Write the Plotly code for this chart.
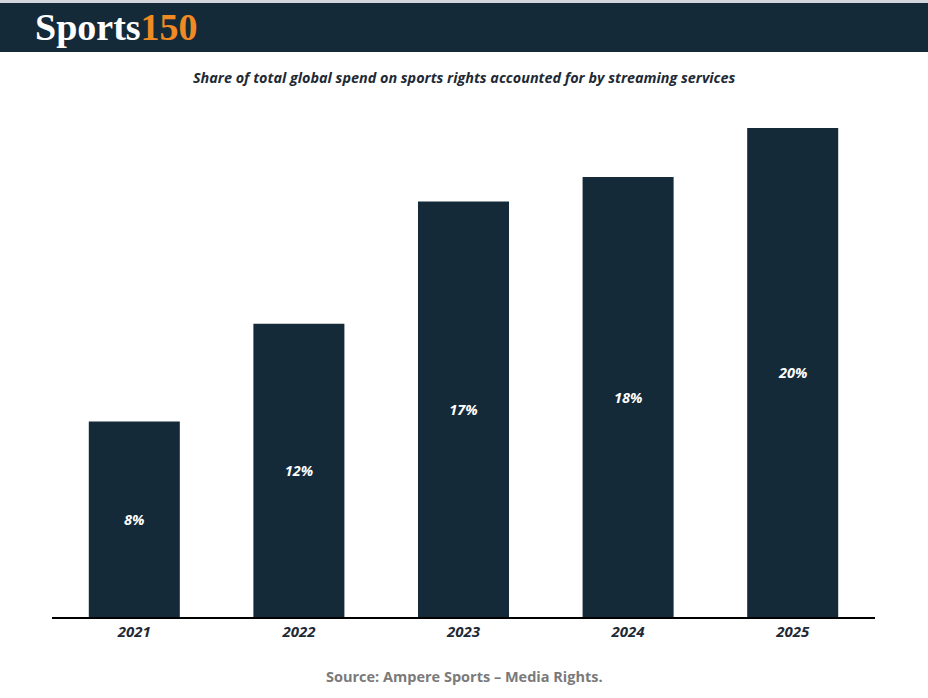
import plotly.graph_objects as go

years = ["2021", "2022", "2023", "2024", "2025"]
shares = [8, 12, 17, 18, 20]
labels = ["8%", "12%", "17%", "18%", "20%"]

W, H = 928, 698
L, R, T, B = 52, 53, 100, 81
pw, ph = W - L - R, H - T - B

def px(x):
    return (x - L) / pw

def py(y):
    return (H - B - y) / ph

DARK = "#152a38"

fig = go.Figure(go.Bar(
    x=years, y=shares, text=labels,
    marker=dict(color=DARK, line=dict(width=0)),
    textposition="inside", insidetextanchor="middle",
    textfont=dict(family="Open Sans", size=14.5, color="white", weight="bold", style="italic"),
    textangle=0, cliponaxis=False, hoverinfo="skip",
))

fig.update_layout(
    width=W, height=H,
    margin=dict(l=L, r=R, t=T, b=B),
    paper_bgcolor="white", plot_bgcolor="white",
    bargap=0.447, showlegend=False,
    xaxis=dict(showline=True, linecolor="#000000", linewidth=1.5, ticks="",
               tickfont=dict(family="Open Sans", size=15, color="#1e2a35", weight="bold", style="italic"),
               fixedrange=True),
    yaxis=dict(range=[0, 21.15], visible=False, showgrid=False, zeroline=False, fixedrange=True),
    uniformtext=dict(minsize=8, mode="show"),
    shapes=[
        dict(type="rect", xref="paper", yref="paper", x0=px(0), x1=px(W), y0=py(3), y1=py(0),
             fillcolor="#d3d7db", line=dict(width=0), layer="below"),
        dict(type="rect", xref="paper", yref="paper", x0=px(0), x1=px(W), y0=py(52), y1=py(3),
             fillcolor=DARK, line=dict(width=0), layer="below"),
    ],
    annotations=[
        dict(xref="paper", yref="paper", x=px(33), y=py(27), xanchor="left", yanchor="middle",
             showarrow=False,
             text="<span style='color:#ffffff'>Sports</span><span style='color:#f28a23'>150</span>",
             font=dict(family="Liberation Serif", size=38, weight="bold")),
        dict(xref="paper", yref="paper", x=px(464), y=py(77), xanchor="center", yanchor="middle",
             showarrow=False, text="Share of total global spend on sports rights accounted for by streaming services",
             font=dict(family="Open Sans", size=14.4, color="#1e2a35", weight="bold", style="italic")),
        dict(xref="paper", yref="paper", x=px(464), y=py(676), xanchor="center", yanchor="middle",
             showarrow=False, text="Source: Ampere Sports – Media Rights.",
             font=dict(family="Open Sans", size=14.5, color="#7a7a7a", weight="bold")),
    ],
)

fig.write_html("out.html", config={"displayModeBar": False},
               post_script="document.body.style.margin='0';document.body.style.overflow='hidden';")
